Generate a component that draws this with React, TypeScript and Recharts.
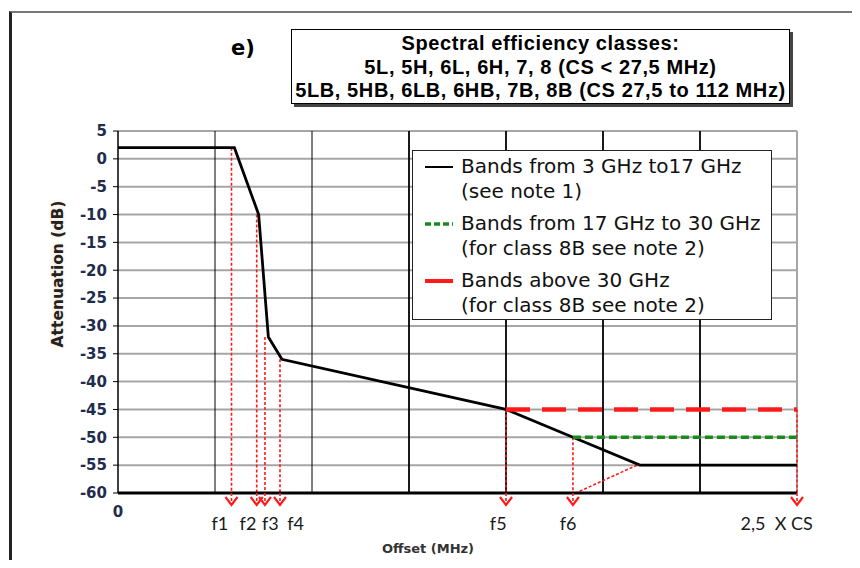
import React from "react";
import { LineChart, Line, XAxis, YAxis, CartesianGrid, ReferenceLine, ReferenceDot } from "recharts";

// mask values: x in grid units (0..7), y in dB
const yTicks = [5, 0, -5, -10, -15, -20, -25, -30, -35, -40, -45, -50, -55, -60];
const gridX = [1, 2, 3, 4, 5, 6, 7];

const maskX = [0, 1.2, 1.45, 1.55, 1.69, 4, 4.69, 5.38, 7];
const maskDb = [2, 2, -10, -32, -36, -45, -50, -55, -55];

const band1730X = [4.69, 7];
const band1730Db = [-50, -50];

const above30X = [4, 7];
const above30Db = [-45, -45];

// red dotted drop lines (f1..f6, 2.5 x CS)
const markerX = [1.17, 1.43, 1.515, 1.67, 4, 4.69, 7];
const markerDb = [2, -10, -32, -36, -45, -50, -45];

const tailX = [5.35, 4.72];
const tailDb = [-55, -60];

const freqNames = ["f1", "f2", "f3", "f4", "f5", "f6", "2,5  X CS"];
const freqNameX = [1.05, 1.34, 1.57, 1.83, 3.92, 4.64, 6.79];

const titleLines = [
  "Spectral efficiency classes:",
  "5L, 5H, 6L, 6H, 7, 8 (CS < 27,5 MHz)",
  "5LB, 5HB, 6LB, 6HB, 7B, 8B (CS 27,5 to 112 MHz)",
];

const legendItems = [
  { lines: ["Bands from 3 GHz to17 GHz", "(see note 1)"], color: "#000", width: 2, dash: "" },
  { lines: ["Bands from 17 GHz to 30 GHz", "(for class 8B see note 2)"], color: "#1a8a1a", width: 3.5, dash: "6 3" },
  { lines: ["Bands above 30 GHz", "(for class 8B see note 2)"], color: "#ff1a1a", width: 4, dash: "" },
];

const toPts = (xs: number[], ys: number[]) => xs.map((x, i) => ({ x, y: ys[i] }));

const NAVY = "#1f2d4d";
const RED = "#ff1a1a";

const ArrowHead = (props: any) => {
  const { cx, cy } = props;
  return (
    <g>
      <line x1={cx} y1={cy} x2={cx} y2={cy + 11} stroke={RED} strokeWidth={1.6} strokeDasharray="3 2" />
      <path d={`M${cx - 6},${cy + 4} L${cx},${cy + 12} L${cx + 6},${cy + 4}`} stroke={RED} strokeWidth={2.2} fill="none" />
    </g>
  );
};

// frequency names sit under the axis, below the arrows
const FreqName = (props: any) => {
  const { cx, cy, name } = props;
  return (
    <text x={cx} y={cy + 37} textAnchor="middle" fill="#1a1a1a" fontFamily="Lato" fontSize={18} style={{ whiteSpace: "pre" }}>
      {name}
    </text>
  );
};

const ZeroTick = (p: any) => (
  <text x={p.x} y={p.y + 24} textAnchor="middle" fill={NAVY} fontFamily="DejaVu Sans" fontWeight="bold" fontSize={15}>
    {p.payload.value}
  </text>
);

export default function App() {
  return (
    <div style={{ position: "relative", width: 860, height: 568, margin: -8, background: "#fff", overflow: "hidden" }}>
      <div style={{ position: "absolute", left: 9, top: 11, width: 860, height: 568, borderLeft: "3px solid #222", borderTop: "2px solid #777" }} />

      <div style={{ position: "absolute", left: 231, top: 36, fontFamily: "DejaVu Sans", fontWeight: "bold", fontSize: 21 }}>e)</div>

      <div
        style={{
          position: "absolute", left: 291, top: 29, width: 499, height: 75,
          border: "1.5px solid #000", boxShadow: "3px 3px 0 #444", background: "#fff",
          fontFamily: "Liberation Sans", fontWeight: "bold", fontSize: 20, lineHeight: "23.5px",
          letterSpacing: 0.6, textAlign: "center", paddingTop: 2, boxSizing: "border-box", whiteSpace: "nowrap",
        }}
      >
        {titleLines.map((t) => (
          <div key={t}>{t}</div>
        ))}
      </div>

      <div style={{ position: "absolute", left: 0, top: 0 }}>
        <LineChart width={860} height={568} margin={{ top: 131, right: 63, left: 58, bottom: 55 }}>
          <CartesianGrid vertical={false} stroke="#a6a6a6" strokeWidth={2} />
          <XAxis
            dataKey="x" type="number" domain={[0, 7]} ticks={[0]} interval={0}
            axisLine={{ stroke: "#000", strokeWidth: 3 }} tickLine={false} tickSize={0} tickMargin={0}
            height={20} tick={<ZeroTick />}
          />
          <YAxis
            type="number" domain={[-60, 5]} ticks={yTicks} interval={0} width={60}
            axisLine={{ stroke: "#000", strokeWidth: 1.5 }} tickLine={{ stroke: "#000" }} tickSize={5} tickMargin={6}
            tick={{ fill: NAVY, fontFamily: "DejaVu Sans", fontWeight: "bold", fontSize: 15 }}
          />
          {gridX.map((v) => (
            <ReferenceLine key={`g${v}`} x={v} stroke={v === 7 ? "#a6a6a6" : "#000"} strokeWidth={v < 3 ? 1 : v === 7 ? 2 : 1.8} />
          ))}
          {markerX.map((v, i) => (
            <ReferenceLine
              key={`m${i}`}
              segment={[{ x: v, y: markerDb[i] }, { x: v, y: -60 }]}
              stroke={RED} strokeWidth={1.6} strokeDasharray="3 2"
            />
          ))}
          <ReferenceLine segment={toPts(tailX, tailDb)} stroke={RED} strokeWidth={1.6} strokeDasharray="3 2" />
          <Line data={toPts(maskX, maskDb)} dataKey="y" type="linear" stroke="#000" strokeWidth={2.8} dot={false} isAnimationActive={false} />
          <Line data={toPts(band1730X, band1730Db)} dataKey="y" type="linear" stroke="#1a8a1a" strokeWidth={3.5} strokeDasharray="8 4" dot={false} isAnimationActive={false} />
          <Line data={toPts(above30X, above30Db)} dataKey="y" type="linear" stroke={RED} strokeWidth={4.5} strokeDasharray="24 12" dot={false} isAnimationActive={false} />
          {markerX.map((v, i) => (
            <ReferenceDot key={`a${i}`} x={v} y={-60} r={0} shape={<ArrowHead />} />
          ))}
          {freqNameX.map((v, i) => (
            <ReferenceDot key={`n${i}`} x={v} y={-60} r={0} shape={<FreqName name={freqNames[i]} />} />
          ))}
        </LineChart>
      </div>

      <div
        style={{
          position: "absolute", left: 412, top: 150, width: 360, height: 170, boxSizing: "border-box",
          border: "1.5px solid #222", background: "#fff", padding: "3px 0 0 12px",
          fontFamily: "DejaVu Sans", fontSize: 20, lineHeight: "25px", color: "#111",
        }}
      >
        {legendItems.map((it) => (
          <div key={it.lines[0]} style={{ display: "flex", marginBottom: 7 }}>
            <svg width={36} height={25} style={{ flex: "none" }}>
              <line x1={0} y1={13} x2={28} y2={13} stroke={it.color} strokeWidth={it.width} strokeDasharray={it.dash} />
            </svg>
            <div>
              {it.lines.map((l) => (
                <div key={l}>{l}</div>
              ))}
            </div>
          </div>
        ))}
      </div>

      <div
        style={{
          position: "absolute", left: 58, top: 274, transform: "translate(-50%, -50%) rotate(-90deg)",
          fontFamily: "DejaVu Sans", fontWeight: "bold", fontSize: 15.5, color: "#222", whiteSpace: "nowrap",
          textShadow: "0 0 4px #f5dcc4",
        }}
      >
        Attenuation (dB)
      </div>
      <div
        style={{
          position: "absolute", left: 428, top: 548, transform: "translate(-50%, -50%)",
          fontFamily: "DejaVu Sans", fontWeight: "bold", fontSize: 13, color: "#333", whiteSpace: "nowrap",
        }}
      >
        Offset (MHz)
      </div>
    </div>
  );
}
